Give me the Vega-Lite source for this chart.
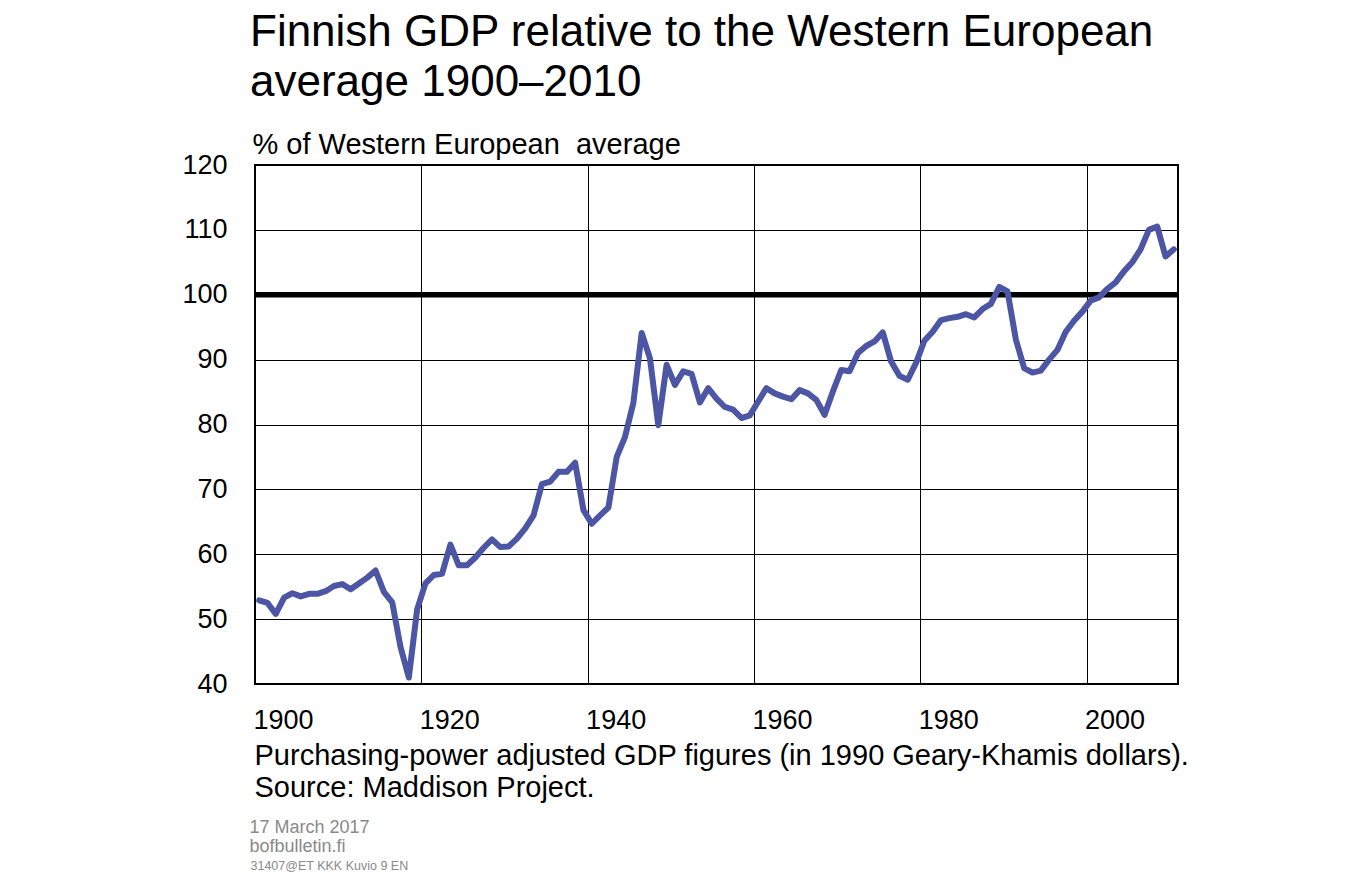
{
  "$schema": "https://vega.github.io/schema/vega-lite/v6.json",
  "width": 923,
  "height": 519,
  "autosize": {"type": "none"},
  "padding": {"left": 255, "top": 165, "right": 170, "bottom": 196},
  "background": "white",
  "config": {
    "font": "Liberation Sans",
    "view": {"stroke": "black", "strokeWidth": 2}
  },
  "title": {
    "text": ["Finnish GDP relative to the Western European", "average 1900–2010"],
    "anchor": "start",
    "frame": "group",
    "dx": -5,
    "offset": 25,
    "fontSize": 44,
    "fontWeight": "normal",
    "color": "black",
    "lineHeight": 50
  },
  "layer": [
    {
      "data": {"values": [{"ref": 100}]},
      "mark": {"type": "rule", "strokeWidth": 5.5, "color": "black"},
      "encoding": {
        "x": {
          "datum": 1899.5,
          "type": "quantitative",
          "axis": {
            "orient": "bottom",
            "labels": false,
            "ticks": false,
            "domain": false,
            "grid": false,
            "title": ["17 March 2017", "bofbulletin.fi"],
            "titleX": -6,
            "titleY": 148,
            "titleAlign": "left",
            "titleBaseline": "alphabetic",
            "titleFontSize": 18,
            "titleFontWeight": "normal",
            "titleColor": "#8a8a8a",
            "titleLineHeight": 19.5
          }
        },
        "x2": {"datum": 2010.5},
        "y": {
          "field": "ref",
          "type": "quantitative",
          "axis": {
            "orient": "right",
            "labels": false,
            "ticks": false,
            "domain": false,
            "grid": false,
            "title": "31407@ET KKK Kuvio 9 EN",
            "titleAngle": 0,
            "titleX": -928,
            "titleY": 704,
            "titleAlign": "left",
            "titleBaseline": "alphabetic",
            "titleFontSize": 12.5,
            "titleFontWeight": "normal",
            "titleColor": "#8a8a8a"
          }
        }
      }
    },
    {
      "data": {
        "values": [
          {"year": 1900, "value": 52.9}, {"year": 1901, "value": 52.5}, {"year": 1902, "value": 50.8},
          {"year": 1903, "value": 53.3}, {"year": 1904, "value": 54.0}, {"year": 1905, "value": 53.5},
          {"year": 1906, "value": 53.9}, {"year": 1907, "value": 53.9}, {"year": 1908, "value": 54.3},
          {"year": 1909, "value": 55.1}, {"year": 1910, "value": 55.4}, {"year": 1911, "value": 54.6},
          {"year": 1912, "value": 55.5}, {"year": 1913, "value": 56.4}, {"year": 1914, "value": 57.5},
          {"year": 1915, "value": 54.2}, {"year": 1916, "value": 52.6}, {"year": 1917, "value": 45.7},
          {"year": 1918, "value": 41.0}, {"year": 1919, "value": 51.5}, {"year": 1920, "value": 55.5},
          {"year": 1921, "value": 56.8}, {"year": 1922, "value": 57.0}, {"year": 1923, "value": 61.5},
          {"year": 1924, "value": 58.3}, {"year": 1925, "value": 58.3}, {"year": 1926, "value": 59.5},
          {"year": 1927, "value": 61.0}, {"year": 1928, "value": 62.3}, {"year": 1929, "value": 61.1},
          {"year": 1930, "value": 61.2}, {"year": 1931, "value": 62.4}, {"year": 1932, "value": 64.0},
          {"year": 1933, "value": 66.0}, {"year": 1934, "value": 70.8}, {"year": 1935, "value": 71.2},
          {"year": 1936, "value": 72.7}, {"year": 1937, "value": 72.7}, {"year": 1938, "value": 74.1},
          {"year": 1939, "value": 66.8}, {"year": 1940, "value": 64.7}, {"year": 1941, "value": 66.0},
          {"year": 1942, "value": 67.2}, {"year": 1943, "value": 75.0}, {"year": 1944, "value": 78.1},
          {"year": 1945, "value": 83.3}, {"year": 1946, "value": 94.1}, {"year": 1947, "value": 90.2},
          {"year": 1948, "value": 79.9}, {"year": 1949, "value": 89.2}, {"year": 1950, "value": 86.1},
          {"year": 1951, "value": 88.2}, {"year": 1952, "value": 87.8}, {"year": 1953, "value": 83.4},
          {"year": 1954, "value": 85.6}, {"year": 1955, "value": 84.0}, {"year": 1956, "value": 82.7},
          {"year": 1957, "value": 82.3}, {"year": 1958, "value": 81.0}, {"year": 1959, "value": 81.4},
          {"year": 1960, "value": 83.5}, {"year": 1961, "value": 85.6}, {"year": 1962, "value": 84.8},
          {"year": 1963, "value": 84.3}, {"year": 1964, "value": 83.9}, {"year": 1965, "value": 85.3},
          {"year": 1966, "value": 84.8}, {"year": 1967, "value": 83.8}, {"year": 1968, "value": 81.5},
          {"year": 1969, "value": 85.1}, {"year": 1970, "value": 88.4}, {"year": 1971, "value": 88.2},
          {"year": 1972, "value": 91.0}, {"year": 1973, "value": 92.1}, {"year": 1974, "value": 92.8},
          {"year": 1975, "value": 94.2}, {"year": 1976, "value": 89.7}, {"year": 1977, "value": 87.5},
          {"year": 1978, "value": 86.9}, {"year": 1979, "value": 89.5}, {"year": 1980, "value": 92.9},
          {"year": 1981, "value": 94.3}, {"year": 1982, "value": 96.1}, {"year": 1983, "value": 96.4},
          {"year": 1984, "value": 96.6}, {"year": 1985, "value": 97.0}, {"year": 1986, "value": 96.5},
          {"year": 1987, "value": 97.8}, {"year": 1988, "value": 98.6}, {"year": 1989, "value": 101.2},
          {"year": 1990, "value": 100.5}, {"year": 1991, "value": 93.1}, {"year": 1992, "value": 88.7},
          {"year": 1993, "value": 88.0}, {"year": 1994, "value": 88.3}, {"year": 1995, "value": 90.0},
          {"year": 1996, "value": 91.5}, {"year": 1997, "value": 94.3}, {"year": 1998, "value": 96.0},
          {"year": 1999, "value": 97.4}, {"year": 2000, "value": 99.1}, {"year": 2001, "value": 99.6},
          {"year": 2002, "value": 100.9}, {"year": 2003, "value": 101.9}, {"year": 2004, "value": 103.6},
          {"year": 2005, "value": 105.0}, {"year": 2006, "value": 107.0}, {"year": 2007, "value": 110.0},
          {"year": 2008, "value": 110.5}, {"year": 2009, "value": 105.9}, {"year": 2010, "value": 107.0}
        ]
      },
      "mark": {"type": "line", "strokeWidth": 6, "color": "#4C56A4", "strokeJoin": "round", "strokeCap": "round"},
      "encoding": {
        "x": {
          "field": "year",
          "type": "quantitative",
          "scale": {"domain": [1899.5, 2010.5], "nice": false, "zero": false},
          "axis": {
            "orient": "bottom",
            "values": [1899.5, 1919.5, 1939.5, 1959.5, 1979.5, 1999.5],
            "labelExpr": "format(datum.value + 0.5, 'd')",
            "labelAlign": "left",
            "labelBaseline": "alphabetic",
            "labelFlush": false,
            "labelOverlap": false,
            "labelPadding": 44,
            "labelOffset": -2,
            "labelFontSize": 27,
            "labelColor": "black",
            "ticks": false,
            "tickSize": 0,
            "domain": false,
            "grid": true,
            "gridColor": "black",
            "gridWidth": 1,
            "gridOpacity": 1,
            "title": ["Purchasing-power adjusted GDP figures (in 1990 Geary-Khamis dollars).", "Source: Maddison Project."],
            "titleX": -1,
            "titleY": 80,
            "titleAlign": "left",
            "titleBaseline": "alphabetic",
            "titleFontSize": 29,
            "titleFontWeight": "normal",
            "titleColor": "black",
            "titleLineHeight": 32
          }
        },
        "y": {
          "field": "value",
          "type": "quantitative",
          "scale": {"domain": [40, 120], "nice": false, "zero": false},
          "axis": {
            "orient": "left",
            "values": [40, 50, 60, 70, 80, 90, 100, 110, 120],
            "labelFontSize": 27,
            "labelColor": "black",
            "labelPadding": 28,
            "ticks": false,
            "tickSize": 0,
            "domain": false,
            "grid": true,
            "gridColor": "black",
            "gridWidth": 1,
            "gridOpacity": 1,
            "title": "% of Western European\u00a0 average",
            "titleAngle": 0,
            "titleX": -3,
            "titleY": -12,
            "titleAlign": "left",
            "titleBaseline": "alphabetic",
            "titleFontSize": 29,
            "titleFontWeight": "normal",
            "titleColor": "black"
          }
        }
      }
    }
  ],
  "resolve": {"axis": {"x": "independent", "y": "independent"}}
}
